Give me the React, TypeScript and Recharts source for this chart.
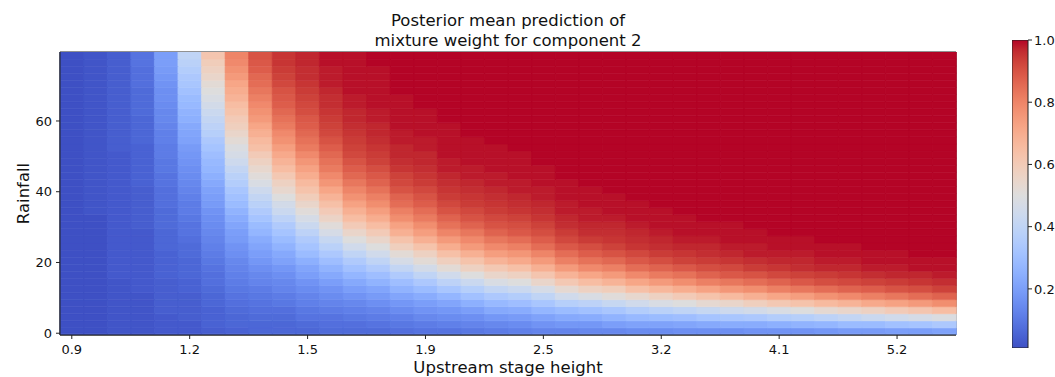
import { Bar, BarChart, Cell, Label, ReferenceArea, XAxis, YAxis } from "recharts";

// upstream stage height of each column (log spaced)
const stageHeights = [
  0.9, 0.946, 0.995, 1.046, 1.1, 1.157, 1.216, 1.279, 1.345, 1.414, 1.486, 1.563, 1.643, 1.727, 1.816, 1.91, 2.008, 2.111,
  2.22, 2.334, 2.454, 2.58, 2.713, 2.852, 2.999, 3.153, 3.315, 3.485, 3.665, 3.853, 4.051, 4.259, 4.478, 4.708, 4.95,
  5.205, 5.472, 5.753,
];

// rainfall bin edges (bottom to top)
const rainEdges = [
  -0.5, 1.5, 3.5, 5.5, 7.5, 9.5, 11.5, 13.5, 15.5, 17.5, 19.5, 21.5, 23.5, 25.5, 27.5, 29.5, 31.5, 33.5, 35.5, 37.5,
  39.5, 41.5, 43.5, 45.5, 47.5, 49.5, 51.5, 53.5, 55.5, 57.5, 59.5, 61.5, 63.5, 65.5, 67.5, 69.5, 71.5, 73.5, 75.5,
  77.5, 79.5,
];

// posterior mean weight (%) per rainfall bin, one row per bin, one value per stage column
const weightPct = [
  [1, 1, 2, 2, 3, 3, 4, 5, 6, 6, 6, 7, 7, 7, 8, 9, 9, 10, 11, 12, 13, 13, 14, 14, 15, 15, 16, 16, 16, 17, 17, 17, 18, 19, 19, 20, 20, 21],
  [1, 1, 2, 2, 3, 3, 5, 6, 6, 6, 7, 8, 8, 9, 10, 11, 12, 13, 14, 15, 17, 18, 18, 20, 21, 21, 22, 23, 24, 24, 25, 26, 27, 29, 29, 31, 32, 34],
  [1, 1, 2, 2, 3, 4, 5, 6, 7, 7, 9, 9, 10, 11, 12, 14, 15, 16, 18, 19, 21, 23, 24, 26, 28, 29, 30, 32, 33, 34, 36, 37, 39, 41, 43, 45, 47, 49],
  [1, 1, 2, 2, 4, 4, 5, 7, 8, 8, 10, 11, 12, 13, 15, 17, 18, 20, 23, 24, 27, 29, 31, 33, 36, 38, 40, 42, 44, 46, 48, 50, 53, 55, 57, 60, 62, 65],
  [1, 1, 2, 2, 4, 4, 6, 8, 9, 10, 12, 13, 14, 16, 18, 20, 22, 25, 28, 30, 33, 37, 39, 42, 45, 48, 50, 53, 55, 58, 61, 63, 66, 68, 71, 73, 75, 78],
  [1, 1, 2, 2, 4, 4, 6, 9, 10, 11, 13, 15, 17, 19, 22, 24, 27, 31, 34, 36, 40, 45, 48, 51, 54, 57, 60, 63, 66, 69, 72, 74, 77, 79, 81, 83, 85, 87],
  [1, 1, 2, 3, 4, 5, 7, 10, 11, 13, 15, 17, 20, 22, 26, 29, 33, 37, 41, 43, 47, 53, 57, 59, 64, 67, 70, 73, 76, 78, 81, 83, 85, 87, 88, 90, 91, 93],
  [1, 1, 2, 3, 4, 5, 8, 11, 13, 14, 17, 20, 23, 26, 30, 34, 39, 43, 48, 50, 55, 61, 65, 68, 72, 75, 78, 81, 83, 85, 87, 89, 91, 92, 93, 94, 95, 96],
  [1, 1, 3, 3, 5, 6, 8, 12, 14, 16, 20, 23, 27, 30, 35, 40, 45, 50, 55, 57, 62, 68, 72, 75, 79, 82, 84, 87, 89, 90, 92, 93, 94, 95, 96, 97, 97, 98],
  [1, 1, 3, 3, 5, 6, 9, 13, 16, 18, 22, 26, 31, 35, 41, 46, 52, 57, 61, 64, 69, 75, 79, 81, 85, 87, 89, 91, 92, 94, 95, 96, 97, 97, 98, 98, 99, 99],
  [1, 1, 3, 3, 5, 6, 10, 14, 18, 21, 25, 30, 35, 40, 47, 52, 58, 63, 68, 71, 75, 81, 84, 86, 89, 91, 93, 94, 95, 96, 97, 97, 98, 98, 99, 99, 99, 99],
  [1, 1, 3, 3, 5, 7, 11, 16, 20, 23, 29, 34, 40, 45, 52, 57, 64, 69, 74, 76, 80, 85, 88, 90, 92, 94, 95, 96, 97, 98, 98, 98, 99, 99, 99, 99, 100, 100],
  [1, 1, 3, 3, 6, 7, 12, 17, 22, 26, 32, 38, 45, 50, 58, 63, 70, 75, 79, 81, 85, 89, 91, 93, 95, 96, 97, 97, 98, 98, 99, 99, 99, 99, 100, 100, 100, 100],
  [1, 1, 3, 3, 6, 8, 13, 19, 24, 29, 35, 42, 50, 55, 63, 69, 75, 79, 83, 85, 88, 92, 94, 95, 96, 97, 98, 98, 99, 99, 99, 99, 100, 100, 100, 100, 100, 100],
  [1, 1, 3, 3, 6, 9, 14, 20, 27, 32, 39, 47, 55, 60, 69, 74, 80, 83, 87, 89, 91, 94, 96, 96, 97, 98, 99, 99, 99, 99, 100, 100, 100, 100, 100, 100, 100, 100],
  [1, 1, 3, 4, 7, 9, 15, 22, 29, 35, 43, 51, 60, 65, 73, 78, 84, 87, 90, 91, 93, 96, 97, 97, 98, 99, 99, 99, 99, 100, 100, 100, 100, 100, 100, 100, 100, 100],
  [1, 1, 3, 4, 7, 10, 16, 24, 32, 39, 47, 56, 65, 70, 78, 82, 87, 90, 92, 93, 95, 97, 98, 98, 99, 99, 99, 100, 100, 100, 100, 100, 100, 100, 100, 100, 100, 100],
  [1, 2, 3, 4, 7, 11, 17, 26, 35, 43, 51, 60, 69, 74, 81, 85, 90, 92, 94, 95, 96, 98, 98, 99, 99, 99, 100, 100, 100, 100, 100, 100, 100, 100, 100, 100, 100, 100],
  [1, 2, 3, 4, 8, 11, 19, 29, 38, 46, 55, 64, 73, 78, 85, 88, 92, 94, 95, 96, 97, 98, 99, 99, 99, 100, 100, 100, 100, 100, 100, 100, 100, 100, 100, 100, 100, 100],
  [1, 2, 3, 4, 8, 12, 20, 31, 41, 50, 59, 68, 77, 81, 87, 90, 94, 95, 96, 97, 98, 99, 99, 99, 100, 100, 100, 100, 100, 100, 100, 100, 100, 100, 100, 100, 100, 100],
  [1, 2, 3, 4, 8, 13, 21, 33, 44, 54, 63, 72, 80, 84, 90, 92, 95, 96, 97, 98, 98, 99, 99, 100, 100, 100, 100, 100, 100, 100, 100, 100, 100, 100, 100, 100, 100, 100],
  [1, 2, 3, 5, 9, 14, 23, 36, 48, 57, 66, 76, 83, 87, 92, 94, 96, 97, 98, 98, 99, 99, 100, 100, 100, 100, 100, 100, 100, 100, 100, 100, 100, 100, 100, 100, 100, 100],
  [1, 2, 3, 5, 9, 15, 25, 38, 51, 61, 70, 79, 86, 89, 93, 95, 97, 98, 98, 99, 99, 100, 100, 100, 100, 100, 100, 100, 100, 100, 100, 100, 100, 100, 100, 100, 100, 100],
  [1, 2, 3, 5, 10, 16, 27, 41, 54, 65, 73, 82, 88, 91, 95, 96, 98, 98, 99, 99, 99, 100, 100, 100, 100, 100, 100, 100, 100, 100, 100, 100, 100, 100, 100, 100, 100, 100],
  [1, 2, 3, 5, 10, 17, 28, 44, 57, 68, 76, 84, 90, 93, 96, 97, 98, 99, 99, 99, 100, 100, 100, 100, 100, 100, 100, 100, 100, 100, 100, 100, 100, 100, 100, 100, 100, 100],
  [1, 2, 3, 5, 11, 18, 30, 47, 60, 71, 79, 86, 92, 94, 97, 97, 99, 99, 99, 99, 100, 100, 100, 100, 100, 100, 100, 100, 100, 100, 100, 100, 100, 100, 100, 100, 100, 100],
  [1, 2, 4, 5, 11, 19, 32, 49, 64, 74, 82, 88, 93, 95, 97, 98, 99, 99, 99, 100, 100, 100, 100, 100, 100, 100, 100, 100, 100, 100, 100, 100, 100, 100, 100, 100, 100, 100],
  [1, 2, 4, 6, 12, 21, 34, 52, 66, 77, 84, 90, 94, 96, 98, 98, 99, 99, 100, 100, 100, 100, 100, 100, 100, 100, 100, 100, 100, 100, 100, 100, 100, 100, 100, 100, 100, 100],
  [1, 2, 4, 6, 12, 22, 37, 55, 69, 79, 86, 92, 95, 97, 98, 99, 99, 100, 100, 100, 100, 100, 100, 100, 100, 100, 100, 100, 100, 100, 100, 100, 100, 100, 100, 100, 100, 100],
  [1, 2, 4, 6, 13, 23, 39, 58, 72, 82, 88, 93, 96, 97, 99, 99, 99, 100, 100, 100, 100, 100, 100, 100, 100, 100, 100, 100, 100, 100, 100, 100, 100, 100, 100, 100, 100, 100],
  [1, 2, 4, 6, 14, 25, 41, 60, 75, 84, 89, 94, 97, 98, 99, 99, 100, 100, 100, 100, 100, 100, 100, 100, 100, 100, 100, 100, 100, 100, 100, 100, 100, 100, 100, 100, 100, 100],
  [1, 2, 4, 7, 14, 26, 43, 63, 77, 86, 91, 95, 97, 98, 99, 99, 100, 100, 100, 100, 100, 100, 100, 100, 100, 100, 100, 100, 100, 100, 100, 100, 100, 100, 100, 100, 100, 100],
  [1, 2, 4, 7, 15, 28, 46, 65, 79, 88, 92, 96, 98, 99, 99, 100, 100, 100, 100, 100, 100, 100, 100, 100, 100, 100, 100, 100, 100, 100, 100, 100, 100, 100, 100, 100, 100, 100],
  [1, 2, 4, 7, 16, 29, 48, 68, 81, 89, 93, 96, 98, 99, 99, 100, 100, 100, 100, 100, 100, 100, 100, 100, 100, 100, 100, 100, 100, 100, 100, 100, 100, 100, 100, 100, 100, 100],
  [1, 2, 4, 7, 16, 31, 50, 70, 83, 90, 94, 97, 99, 99, 100, 100, 100, 100, 100, 100, 100, 100, 100, 100, 100, 100, 100, 100, 100, 100, 100, 100, 100, 100, 100, 100, 100, 100],
  [1, 2, 4, 8, 17, 33, 52, 72, 85, 92, 95, 98, 99, 99, 100, 100, 100, 100, 100, 100, 100, 100, 100, 100, 100, 100, 100, 100, 100, 100, 100, 100, 100, 100, 100, 100, 100, 100],
  [1, 2, 4, 8, 18, 34, 55, 75, 86, 93, 96, 98, 99, 99, 100, 100, 100, 100, 100, 100, 100, 100, 100, 100, 100, 100, 100, 100, 100, 100, 100, 100, 100, 100, 100, 100, 100, 100],
  [1, 2, 4, 8, 19, 36, 57, 77, 88, 94, 96, 98, 99, 99, 100, 100, 100, 100, 100, 100, 100, 100, 100, 100, 100, 100, 100, 100, 100, 100, 100, 100, 100, 100, 100, 100, 100, 100],
  [1, 2, 4, 9, 20, 38, 59, 79, 89, 95, 97, 99, 99, 100, 100, 100, 100, 100, 100, 100, 100, 100, 100, 100, 100, 100, 100, 100, 100, 100, 100, 100, 100, 100, 100, 100, 100, 100],
  [1, 2, 4, 9, 20, 40, 62, 80, 90, 95, 97, 99, 99, 100, 100, 100, 100, 100, 100, 100, 100, 100, 100, 100, 100, 100, 100, 100, 100, 100, 100, 100, 100, 100, 100, 100, 100, 100],
];

const rainTicks = [0, 20, 40, 60];
const colorbarTicks = [0.2, 0.4, 0.6, 0.8, 1.0];

// matplotlib coolwarm (Moreland) control points
const COOLWARM: number[][] = [
  [59, 76, 192], [68, 90, 204], [77, 104, 215], [87, 117, 225], [98, 130, 234], [108, 142, 241], [119, 154, 247],
  [130, 165, 251], [141, 176, 254], [152, 185, 255], [163, 194, 255], [174, 201, 253], [184, 208, 249], [194, 213, 244],
  [204, 217, 238], [213, 219, 230], [221, 221, 221], [229, 216, 209], [236, 211, 197], [241, 204, 185], [245, 196, 173],
  [247, 187, 160], [247, 177, 148], [247, 166, 135], [244, 154, 123], [241, 141, 111], [236, 127, 99], [229, 112, 88],
  [222, 96, 77], [213, 80, 66], [203, 62, 56], [192, 40, 47], [180, 4, 38],
];

function coolwarm(t: number) {
  const v = Math.min(1, Math.max(0, t)) * (COOLWARM.length - 1);
  const i = Math.min(COOLWARM.length - 2, Math.floor(v));
  const f = v - i;
  const c = COOLWARM[i].map((a, k) => Math.round(a + (COOLWARM[i + 1][k] - a) * f));
  return `rgb(${c[0]},${c[1]},${c[2]})`;
}

const FONT = '"DejaVu Sans", sans-serif';
const INK = "#111";

// one row per stage column; each rainfall bin is a stacked segment
const heatData = stageHeights.map((stage) => {
  const row: Record<string, number> = { stage, below: Math.min(rainEdges[0], 0) };
  rainEdges.slice(0, -1).forEach((lo, i) => {
    row[`r${i}`] = rainEdges[i + 1] - Math.max(lo, 0);
  });
  return row;
});

const allWeights = weightPct.flat();
const cbMin = Math.min(...allWeights) / 100;
const cbMax = Math.max(...allWeights) / 100;
const colorbarData = [{ name: "weight", span: [cbMin, cbMax] }];
const gradientStops = COOLWARM.map((_, i) => i / (COOLWARM.length - 1)).filter((t) => t > cbMin);

function cells(row: number[]) {
  return row.map((w, c) => {
    const color = coolwarm(w / 100);
    return <Cell key={c} fill={color} stroke={color} strokeWidth={0.6} />;
  });
}

export default function App() {
  return (
    <div
      style={{
        position: "absolute",
        left: 0,
        top: 0,
        width: 1055,
        height: 377,
        overflow: "hidden",
        background: "#fff",
        fontFamily: FONT,
      }}
    >
      <div
        style={{
          position: "absolute",
          left: 258,
          top: 11,
          width: 500,
          textAlign: "center",
          fontSize: 16.5,
          lineHeight: "20px",
          color: INK,
        }}
      >
        Posterior mean prediction of
        <br />
        mixture weight for component 2
      </div>

      <div style={{ position: "absolute", left: 0, top: 0 }}>
        <BarChart
          width={1055}
          height={377}
          data={heatData}
          margin={{ top: 52, right: 99, bottom: 0, left: 0 }}
          barCategoryGap={0}
          barGap={0}
          stackOffset="sign"
        >
          <XAxis
            dataKey="stage"
            type="category"
            interval={4}
            height={42}
            tickSize={4}
            tickMargin={6}
            tickFormatter={(v) => Number(v).toFixed(1)}
            tick={{ fontSize: 13, fill: INK, fontFamily: FONT }}
            axisLine={{ stroke: "#222" }}
            tickLine={{ stroke: "#222" }}
          >
            <Label
              value="Upstream stage height"
              position="insideBottom"
              offset={4}
              style={{ fontSize: 16.5, fill: INK, fontFamily: FONT }}
            />
          </XAxis>
          <YAxis
            type="number"
            domain={[rainEdges[0], rainEdges[rainEdges.length - 1]]}
            allowDataOverflow
            ticks={rainTicks}
            width={60}
            tickSize={4}
            tickMargin={4}
            tick={{ fontSize: 13, fill: INK, fontFamily: FONT }}
            axisLine={{ stroke: "#222" }}
            tickLine={{ stroke: "#222" }}
          >
            <Label
              value="Rainfall"
              angle={-90}
              position="insideLeft"
              offset={23}
              style={{ fontSize: 16.5, fill: INK, fontFamily: FONT, textAnchor: "middle" }}
            />
          </YAxis>
          <Bar dataKey="below" stackId="heat" isAnimationActive={false}>
            {cells(weightPct[0])}
          </Bar>
          {weightPct.map((row, i) => (
            <Bar key={i} dataKey={`r${i}`} stackId="heat" isAnimationActive={false}>
              {cells(row)}
            </Bar>
          ))}
          <ReferenceArea
            y1={rainEdges[0]}
            y2={rainEdges[rainEdges.length - 1]}
            fill="none"
            fillOpacity={0}
            stroke="#222"
            strokeWidth={1}
            ifOverflow="visible"
          />
        </BarChart>
      </div>

      <div style={{ position: "absolute", left: 1012, top: 0 }}>
        <BarChart
          width={80}
          height={377}
          data={colorbarData}
          margin={{ top: 40, right: 0, bottom: 29, left: 0 }}
          barCategoryGap={0}
        >
          <defs>
            <linearGradient id="coolwarmBar" x1="0" y1="1" x2="0" y2="0">
              <stop offset="0" stopColor={coolwarm(cbMin)} />
              {gradientStops.map((t) => (
                <stop key={t} offset={(t - cbMin) / (cbMax - cbMin)} stopColor={coolwarm(t)} />
              ))}
            </linearGradient>
          </defs>
          <XAxis dataKey="name" hide />
          <YAxis
            orientation="right"
            type="number"
            domain={[cbMin, cbMax]}
            allowDataOverflow
            ticks={colorbarTicks}
            width={64}
            tickSize={4}
            tickMargin={2}
            tickFormatter={(v) => Number(v).toFixed(1)}
            tick={{ fontSize: 13, fill: INK, fontFamily: FONT, textAnchor: "start" }}
            axisLine={false}
            tickLine={{ stroke: "#222" }}
          />
          <Bar dataKey="span" fill="url(#coolwarmBar)" stroke="#222" strokeWidth={1} isAnimationActive={false} />
        </BarChart>
      </div>
    </div>
  );
}
